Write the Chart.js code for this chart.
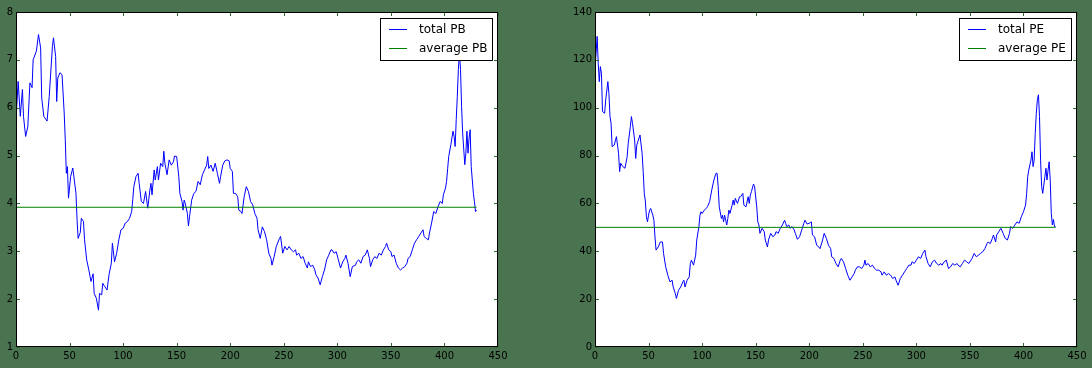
<!DOCTYPE html>
<html lang="en">
<head>
    <meta charset="UTF-8">
    <title>PB / PE</title>
    <script src="https://cdn.jsdelivr.net/npm/chart.js"></script>
    <style>
        html, body {
            margin: 0;
            padding: 0;
            background: #4a7450;
            overflow: hidden;
        }
        .panel {
            position: absolute;
            top: 0;
            width: 546px;
            height: 368px;
        }
    </style>
</head>
<body>
    <div class="panel" style="left:0"><canvas id="pbChart" width="546" height="368"></canvas></div>
    <div class="panel" style="left:546px"><canvas id="peChart" width="546" height="368"></canvas></div>

    <script>
        // PB series (day index, value)
        const pbDays = [0,2,4,6,7,9,11,13,15,16,19,21,23,24,26,29,31,34,35,37,38,39,41,43,45,46,47,48,49,51,53,56,57,58,60,61,63,64,66,68,70,72,73,75,77,78,80,81,83,85,87,89,90,92,94,96,98,100,102,104,106,108,109,110,112,114,115,117,119,121,123,125,126,127,129,130,132,133,135,137,138,139,141,143,145,147,148,150,152,153,155,156,157,158,160,161,162,164,166,168,170,172,174,176,178,179,180,182,184,186,188,190,191,193,195,197,199,200,202,203,205,207,208,210,211,213,215,217,219,221,223,225,226,228,230,232,234,236,238,239,241,243,246,247,249,251,253,255,257,259,261,262,264,266,268,270,272,273,275,277,279,280,282,284,286,288,290,292,294,295,297,299,301,303,305,307,308,310,312,314,317,318,320,322,324,326,328,330,331,333,335,337,339,341,343,345,346,348,350,351,353,355,357,359,361,363,365,366,368,370,372,374,376,378,380,381,383,385,386,388,390,392,394,396,398,399,401,402,403,404,406,407,408,409,410,411,412,413,414,415,416,417,419,420,421,422,423,424,425,427,428,429,430];
        const pbValues = [5.75,6.55,5.82,6.38,5.82,5.40,5.60,6.52,6.42,7.00,7.18,7.53,7.25,6.20,5.82,5.72,6.23,7.28,7.46,7.07,6.13,6.62,6.73,6.69,5.89,5.33,4.63,4.77,4.11,4.56,4.74,4.21,3.66,3.27,3.39,3.69,3.62,3.24,2.82,2.61,2.37,2.53,2.12,2.02,1.77,2.12,2.09,2.33,2.26,2.19,2.53,2.75,3.17,2.78,2.96,3.24,3.45,3.48,3.59,3.62,3.69,3.83,4.08,4.35,4.56,4.63,4.42,4.04,4.00,4.25,3.90,4.28,4.42,4.18,4.70,4.49,4.77,4.49,4.84,4.77,5.09,4.84,4.60,4.91,4.80,4.87,4.99,4.98,4.56,4.21,4.04,3.86,4.07,4.00,3.79,3.53,3.72,4.07,4.21,4.25,4.46,4.39,4.60,4.70,4.80,4.98,4.73,4.80,4.67,4.84,4.63,4.42,4.56,4.80,4.89,4.91,4.89,4.73,4.67,4.21,4.21,4.14,3.86,3.83,3.79,4.14,4.35,4.25,4.04,3.97,3.79,3.69,3.45,3.27,3.51,3.41,3.24,2.96,2.85,2.71,2.89,3.10,3.27,3.31,2.96,3.10,3.03,3.10,3.03,2.99,3.03,2.92,2.96,2.85,2.89,2.75,2.65,2.78,2.68,2.71,2.61,2.51,2.44,2.30,2.47,2.61,2.82,2.92,3.03,3.03,2.96,2.99,2.82,2.65,2.78,2.85,2.92,2.75,2.47,2.68,2.71,2.78,2.82,2.75,2.89,2.92,3.03,2.85,2.68,2.82,2.89,2.85,2.96,2.92,3.03,3.10,3.17,3.03,2.99,2.89,2.92,2.75,2.65,2.61,2.65,2.68,2.75,2.85,2.89,3.03,3.17,3.24,3.31,3.38,3.45,3.31,3.27,3.24,3.38,3.59,3.83,3.79,3.93,4.04,4.00,4.18,4.32,4.46,4.73,4.98,5.23,5.37,5.51,5.40,5.19,5.75,6.24,6.80,7.14,6.80,6.03,5.47,4.81,5.05,5.51,5.05,5.37,5.54,4.77,4.21,4.04,3.83,3.86];
        const pbAverage = 3.92;

        // PE series (day index, value)
        const peDays = [0,1,2,3,4,5,6,7,9,10,12,13,14,15,16,18,20,21,22,23,24,26,28,30,31,33,34,35,37,38,39,40,42,44,45,46,47,48,49,50,51,52,54,55,56,57,59,61,63,64,66,68,70,72,73,75,76,78,80,82,83,84,86,88,89,90,92,94,95,97,98,99,100,102,103,105,107,109,111,113,114,115,116,118,119,120,121,123,124,125,126,128,129,130,131,133,135,136,138,139,141,143,144,145,146,148,149,151,152,153,154,156,158,159,161,162,164,166,168,169,171,173,175,177,178,179,181,182,184,186,187,189,191,193,195,196,198,200,202,203,205,207,209,210,212,214,216,218,220,221,223,225,227,229,230,232,234,236,238,240,242,243,245,247,249,251,252,253,255,257,259,261,263,265,267,268,270,272,274,276,278,280,281,283,285,287,289,291,293,295,296,298,300,302,304,306,308,309,311,313,315,317,319,321,323,324,326,328,330,332,334,336,338,339,341,343,345,347,349,351,352,354,356,358,360,362,364,366,367,369,371,372,374,375,377,379,381,383,385,387,388,390,392,394,396,398,400,402,403,404,405,407,408,409,410,411,412,413,414,415,416,417,418,420,421,422,423,424,425,426,427,428,429,430];
        const peValues = [117.2,122.8,129.8,118.6,110.9,117.2,114.4,98.4,97.7,103.3,110.9,106.0,96.3,93.5,83.7,84.4,87.9,84.4,80.9,73.3,76.8,75.4,74.7,79.5,85.1,92.1,96.3,93.5,86.5,78.8,84.4,85.8,88.6,80.9,73.3,64.2,61.0,54.4,52.3,55.1,57.2,57.9,55.1,53.0,46.0,40.5,41.8,43.9,43.9,39.1,33.5,30.0,27.2,27.9,25.1,22.3,20.3,23.7,25.1,27.2,27.9,25.1,27.9,29.3,34.9,36.3,34.2,38.4,44.7,50.3,55.1,56.5,55.8,57.2,57.5,58.6,60.7,65.6,69.8,72.6,72.6,67.0,58.6,53.7,55.1,52.3,55.1,51.0,53.7,57.2,55.8,59.3,61.4,59.3,62.1,60.0,62.8,62.8,64.2,59.3,58.6,62.8,60.0,63.5,64.9,68.1,67.0,58.6,52.3,51.0,47.5,49.6,48.2,44.7,41.8,44.7,47.5,46.1,46.8,48.2,47.5,49.6,51.0,53.0,51.7,50.3,51.0,49.6,50.3,48.9,47.5,45.0,46.1,48.9,51.7,53.0,51.4,51.7,52.3,46.8,46.1,42.5,41.8,41.1,43.9,47.5,45.4,42.5,41.1,37.7,37.0,34.9,33.5,36.3,37.0,35.6,32.8,30.0,27.9,29.3,30.7,32.1,33.5,33.5,32.8,34.2,36.3,34.2,34.9,33.5,34.2,32.8,32.1,32.1,31.4,30.0,31.4,30.0,30.7,30.0,28.6,29.3,27.9,25.8,28.6,30.0,31.4,32.8,34.2,34.2,35.6,34.9,36.3,37.7,37.0,39.1,40.5,37.7,34.9,33.5,35.6,36.3,34.9,34.2,34.9,34.2,35.6,36.3,32.8,33.5,34.9,34.2,34.9,34.2,33.5,34.9,36.3,35.6,34.9,36.3,37.0,39.1,37.7,38.4,39.1,39.8,41.1,43.2,43.9,43.2,45.4,46.8,43.9,46.8,48.2,49.6,47.5,45.4,44.7,47.5,50.3,49.6,51.0,52.3,51.7,54.4,56.5,59.3,64.2,71.2,74.0,78.1,81.6,75.4,78.1,89.3,97.7,103.3,105.4,96.3,78.1,67.0,64.2,71.2,74.7,69.8,74.0,77.4,69.8,55.8,51.0,53.3,50.3,50.3];
        const peAverage = 50.0;

        const xTicks = [0, 50, 100, 150, 200, 250, 300, 350, 400, 450];
        const pbTicks = [1, 2, 3, 4, 5, 6, 7, 8];
        const peTicks = [0, 20, 40, 60, 80, 100, 120, 140];

        const tickFont = { family: "'DejaVu Sans'", size: 10 };

        // white plot area, inward ticks on all sides, frame and legend box
        const framePlugin = {
            id: 'frame',
            beforeDraw(chart) {
                const a = chart.chartArea;
                const ctx = chart.ctx;
                ctx.save();
                ctx.fillStyle = '#ffffff';
                ctx.fillRect(a.left, a.top, a.width, a.height);
                ctx.restore();
            },
            afterDraw(chart) {
                const a = chart.chartArea;
                const ctx = chart.ctx;
                const xs = chart.scales.x;
                const ys = chart.scales.y;
                ctx.save();

                ctx.strokeStyle = '#2f6b33';
                ctx.lineWidth = 1;
                ctx.beginPath();
                xs.ticks.forEach(t => {
                    const p = Math.round(xs.getPixelForValue(t.value)) + 0.5;
                    ctx.moveTo(p, a.bottom); ctx.lineTo(p, a.bottom - 4);
                    ctx.moveTo(p, a.top); ctx.lineTo(p, a.top + 4);
                });
                ys.ticks.forEach(t => {
                    const p = Math.round(ys.getPixelForValue(t.value)) + 0.5;
                    ctx.moveTo(a.left, p); ctx.lineTo(a.left + 4, p);
                    ctx.moveTo(a.right, p); ctx.lineTo(a.right - 4, p);
                });
                ctx.stroke();

                ctx.strokeStyle = '#000000';
                ctx.strokeRect(Math.round(a.left) + 0.5, Math.round(a.top) + 0.5,
                    Math.round(a.width) - 1, Math.round(a.height) - 1);

                // legend
                ctx.font = "12px 'DejaVu Sans'";
                const sets = chart.data.datasets;
                let maxW = 0;
                sets.forEach(d => { maxW = Math.max(maxW, ctx.measureText(d.label).width); });
                const w = Math.round(39 + maxW + 5);
                const h = 42;
                const right = Math.round(a.right) - 6;
                const left = right - w;
                const top = Math.round(a.top) + 6;
                ctx.fillStyle = '#ffffff';
                ctx.fillRect(left, top, w, h);
                ctx.strokeStyle = '#000000';
                ctx.strokeRect(left + 0.5, top + 0.5, w, h);
                ctx.textBaseline = 'middle';
                sets.forEach((d, i) => {
                    const y = top + 11 + i * 19;
                    ctx.strokeStyle = d.borderColor;
                    ctx.beginPath();
                    ctx.moveTo(left + 9, y + 0.5);
                    ctx.lineTo(left + 27, y + 0.5);
                    ctx.stroke();
                    ctx.fillStyle = '#000000';
                    ctx.fillText(d.label, left + 39, y + 1);
                });
                ctx.restore();
            }
        };

        function renderChart(canvasId, name, days, values, average, yTicks, yWidth, padRight) {
            const total = days.map((d, i) => ({ x: d, y: values[i] }));
            const avgLine = [
                { x: days[0], y: average },
                { x: days[days.length - 1], y: average }
            ];

            new Chart(document.getElementById(canvasId), {
                type: 'line',
                data: {
                    datasets: [{
                        label: 'total ' + name,
                        data: total,
                        borderColor: '#0000ff',
                        borderWidth: 1,
                        pointRadius: 0,
                        tension: 0,
                        order: 1
                    }, {
                        label: 'average ' + name,
                        data: avgLine,
                        borderColor: '#008000',
                        borderWidth: 1,
                        pointRadius: 0,
                        order: 0
                    }]
                },
                options: {
                    responsive: false,
                    animation: false,
                    devicePixelRatio: 1,
                    layout: { padding: { left: 0, top: 12, right: padRight, bottom: 0 } },
                    scales: {
                        x: {
                            type: 'linear',
                            min: xTicks[0],
                            max: xTicks[xTicks.length - 1],
                            afterBuildTicks: s => { s.ticks = xTicks.map(v => ({ value: v })); },
                            afterFit: s => { s.height = 21; },
                            grid: { display: false, drawTicks: false },
                            border: { display: false },
                            ticks: { color: '#000000', font: tickFont, padding: 3, maxRotation: 0 }
                        },
                        y: {
                            min: yTicks[0],
                            max: yTicks[yTicks.length - 1],
                            afterBuildTicks: s => { s.ticks = yTicks.map(v => ({ value: v })); },
                            afterFit: s => { s.width = yWidth; },
                            grid: { display: false, drawTicks: false },
                            border: { display: false },
                            ticks: { color: '#000000', font: tickFont, padding: 3 }
                        }
                    },
                    plugins: {
                        legend: { display: false },
                        tooltip: { enabled: false }
                    }
                },
                plugins: [framePlugin]
            });
        }

        renderChart('pbChart', 'PB', pbDays, pbValues, pbAverage, pbTicks, 16, 48);
        renderChart('peChart', 'PE', peDays, peValues, peAverage, peTicks, 49, 15);
    </script>
</body>
</html>
